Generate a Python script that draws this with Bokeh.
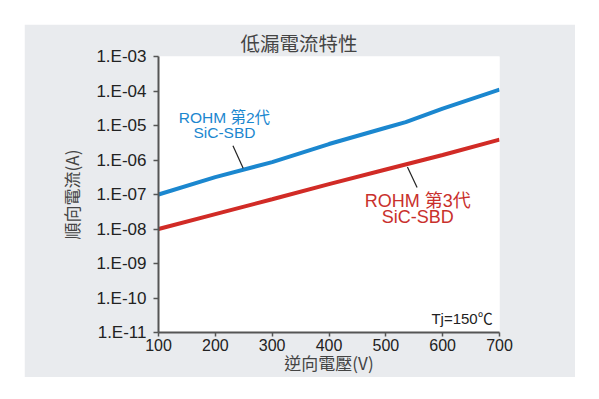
from bokeh.plotting import figure
from bokeh.models import (Range1d, FixedTicker, CustomJSTickFormatter, Spacer)
from bokeh.layouts import column, row
from bokeh.core.properties import value
from bokeh.embed import file_html
from bokeh.resources import INLINE

# ---- data ----
x_ticks = [100, 200, 300, 400, 500, 600, 700]
y_ticks = [1e-11, 1e-10, 1e-9, 1e-8, 1e-7, 1e-6, 1e-5, 1e-4, 1e-3]

gen2_v = [100, 200, 300, 400, 500, 535, 600, 700]
gen2_i = [1.0e-7, 3.2e-7, 8.7e-7, 2.9e-6, 8.6e-6, 1.25e-5, 3.1e-5, 1.1e-4]

gen3_v = [100, 200, 300, 400, 500, 600, 700]
gen3_i = [1.0e-8, 2.7e-8, 7.3e-8, 2.0e-7, 5.3e-7, 1.4e-6, 3.9e-6]

title_text = "低漏電流特性"
x_label = "逆向電壓(V)"
y_label = "順向電流(A)"
gen2_label = ["ROHM 第2代", "SiC-SBD"]
gen3_label = ["ROHM 第3代", "SiC-SBD"]
cond_label = "Tj=150℃"

# annotation positions (data coordinates)
gen2_label_pos = ([216, 216], [10**-4.76, 10**-5.2])
gen3_label_pos = ([556, 556], [10**-7.19, 10**-7.65])
gen2_leader = ([231, 249], [10**-5.59, 10**-6.24])
gen3_leader = ([538, 555], [10**-6.2, 10**-6.8])
cond_pos = (688, 10**-10.6)

BLUE = "#1b87cf"
RED = "#d12b26"
CJK = "Noto Sans CJK TC"
LATIN = "'Liberation Sans', 'Noto Sans CJK TC'"

p = figure(frame_width=341, frame_height=276,
           min_border_left=134, min_border_right=76,
           min_border_top=32, min_border_bottom=42,
           x_range=Range1d(100, 700), y_range=Range1d(1e-11, 1e-3),
           y_axis_type="log", output_backend="svg", toolbar_location=None,
           background_fill_color="white", border_fill_color="#e9ebee")
p.outline_line_color = None
p.grid.visible = False

p.title.text = title_text
p.title.align = "left"
p.title.offset = 82
p.title.standoff = 0
p.title.text_font = CJK
p.title.text_font_size = "19.5px"
p.title.text_font_style = "normal"
p.title.text_color = "#444444"

for ax in (p.xaxis[0], p.yaxis[0]):
    ax.axis_line_color = "#555555"
    ax.axis_line_width = 2
    ax.major_tick_line_color = "#555555"
    ax.major_tick_line_width = 1.5
    ax.major_tick_in = 0
    ax.minor_tick_line_color = None
    ax.major_label_text_font = "Liberation Sans"
    ax.major_label_text_font_size = "16px"
    ax.major_label_text_color = "#222222"
    ax.axis_label_text_font = CJK
    ax.axis_label_text_font_size = "17px"
    ax.axis_label_text_font_style = "normal"
    ax.axis_label_text_color = "#444444"

p.xaxis[0].ticker = FixedTicker(ticks=x_ticks)
p.xaxis[0].major_tick_out = 4
p.xaxis[0].major_label_standoff = 2
p.xaxis[0].axis_label = x_label
p.xaxis[0].axis_label_standoff = -4

p.yaxis[0].ticker = FixedTicker(ticks=y_ticks)
p.yaxis[0].major_tick_out = 5
p.yaxis[0].major_label_standoff = 7
p.yaxis[0].major_label_text_font_size = "17px"
p.yaxis[0].formatter = CustomJSTickFormatter(code="""
    const e = Math.round(-Math.log10(tick));
    return "1.E-" + String(e).padStart(2, "0");
""")
p.yaxis[0].axis_label = y_label
p.yaxis[0].axis_label_standoff = 9

p.line(gen2_v, gen2_i, line_color=BLUE, line_width=4)
p.line(gen3_v, gen3_i, line_color=RED, line_width=4)

p.line(gen2_leader[0], gen2_leader[1], line_color="#222222", line_width=1.2)
p.line(gen3_leader[0], gen3_leader[1], line_color="#222222", line_width=1.2)

p.text(x=gen2_label_pos[0], y=gen2_label_pos[1], text=gen2_label,
       text_font=value(LATIN), text_font_size="15.5px", text_color=BLUE,
       text_align="center", text_baseline="middle")
p.text(x=gen3_label_pos[0], y=gen3_label_pos[1], text=gen3_label,
       text_font=value(LATIN), text_font_size="18px", text_color="#c9302c",
       text_align="center", text_baseline="middle")
p.text(x=[cond_pos[0]], y=[cond_pos[1]], text=[cond_label],
       text_font=value(LATIN), text_font_size="15px", text_color="#222222",
       text_align="right", text_baseline="middle")

layout = column(Spacer(height=24), row(Spacer(width=24), p))
open("out.html", "w").write(file_html(layout, INLINE))
